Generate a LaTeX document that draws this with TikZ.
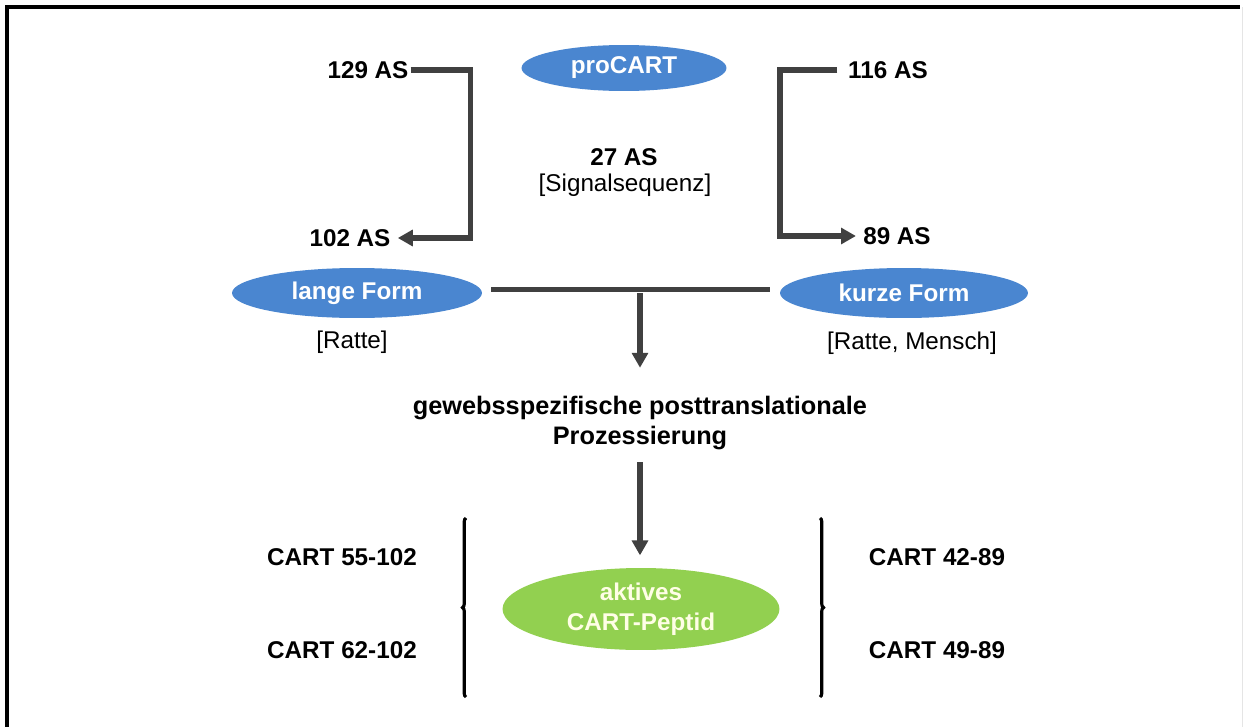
\documentclass[tikz,border=0pt]{standalone}
\usepackage{fontspec}
\setmainfont{Liberation Sans}
\usetikzlibrary{shapes.geometric,arrows.meta,decorations.pathreplacing}

\definecolor{formblue}{RGB}{74,134,208}
\definecolor{peptidgreen}{RGB}{146,208,80}
\definecolor{linegrey}{RGB}{64,64,64}

\tikzset{
    lbl/.style={font=\bfseries\fontsize{13.8}{17}\selectfont, inner sep=1pt},
    note/.style={font=\fontsize{13.8}{17}\selectfont, inner sep=1pt},
    form/.style={ellipse, fill=formblue, text=white, inner sep=0pt,
        font=\bfseries\fontsize{13.8}{17}\selectfont},
    conn/.style={draw=linegrey, line width=3pt},
    arr/.style={-{Triangle[length=8.5pt,width=9pt]}},
    bracket/.style={decorate, decoration={brace, amplitude=2pt}, line width=1.8pt}
}

\begin{document}
\begin{tikzpicture}[x=0.02cm, y=-0.02cm]
    \useasboundingbox (0,0) rectangle (1245,727);
    % frame
    \draw[line width=1.8pt] (7,727) -- (7,7) -- (1240,7);
    \draw[black!10] (1242,7) -- (1242,727);

    % precursor
    \node[form, minimum width=4.1cm, minimum height=0.92cm] (procart) at (624,68) {proCART};
    \node[lbl] (as129) at (368,70) {129 AS};
    \node[lbl] (as102) at (350,238) {102 AS};
    \node[lbl] (as116) at (888,70) {116 AS};
    \node[lbl] (as89) at (897,236) {89 AS};
    \node[lbl] (as27) at (624,157) {27 AS};
    \node[note] (signal) at (625,185) {[Signalsequenz]};

    \draw[conn, arr, shorten >=3pt] (as129.east) -- ++(60,0) |- (as102.east);
    \draw[conn, arr, shorten <=5pt, shorten >=3pt] (as116.west) -- ++(-66,0) |- (as89.west);

    % forms
    \node[form, minimum width=5cm, minimum height=1cm] (lang) at (357,293) {lange Form};
    \node[form, minimum width=4.96cm, minimum height=1cm] (kurz) at (904,293) {kurze Form};
    \node[note] (ratte) at (352,342) {[Ratte]};
    \node[note] (mensch) at (912,343) {[Ratte, Mensch]};

    \node[lbl, font=\bfseries\fontsize{14.4}{17}\selectfont, align=center] (proz) at (640,423)
        {gewebsspezifische posttranslationale\\Prozessierung};

    \draw[conn, shorten <=5pt, shorten >=5.5pt] ([yshift=2pt]lang.east) -- ([yshift=2pt]kurz.west);
    \draw[conn, arr, shorten >=15pt] (proz.north |- lang.east) -- (proz.north);

    % active peptide
    \node[form, fill=peptidgreen, text=white!90!yellow, align=center,
        minimum width=5.54cm, minimum height=1.64cm] (peptid) at (641,609) {aktives\\CART-Peptid};
    \draw[conn, arr, shorten <=6pt, shorten >=7pt] (proz.south) -- (proz.south |- peptid.north);

    \node[lbl] (c55) at (342,557) {CART 55-102};
    \node[lbl] (c62) at (342,650) {CART 62-102};
    \node[lbl] (c42) at (937,557) {CART 42-89};
    \node[lbl] (c49) at (937,650) {CART 49-89};

    \coordinate (lbtop) at (466,518);
    \coordinate (lbbot) at (466,697);
    \coordinate (rbtop) at (820,518);
    \coordinate (rbbot) at (820,697);
    \draw[bracket] (lbbot) -- (lbtop);
    \draw[bracket] (rbtop) -- (rbbot);
\end{tikzpicture}
\end{document}
